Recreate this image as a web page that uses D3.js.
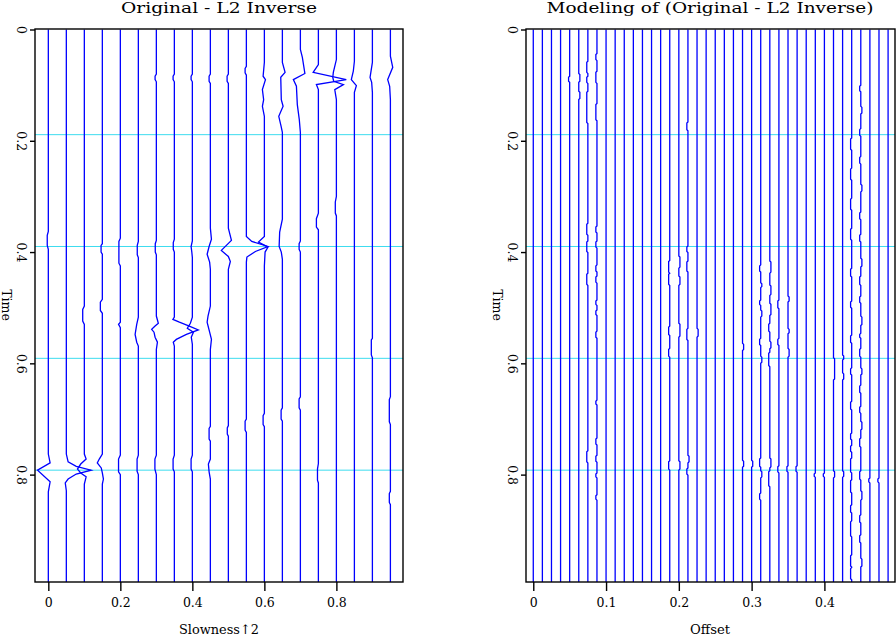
<!DOCTYPE html>
<html lang="en">
<head>
<meta charset="UTF-8">
<title>Original - L2 Inverse</title>
<script src="https://d3js.org/d3.v7.min.js"></script>
<style>
    body { margin: 0; background: #fff; }
    svg { display: block; }
    text { font-family: "DejaVu Serif", "Liberation Serif", serif; fill: #000; }
</style>
</head>
<body>
<div class="container"></div>
<script>
// trace positions (x axis) and tick labels
const slowness = [0, 0.05, 0.1, 0.15, 0.2, 0.25, 0.3, 0.35, 0.4, 0.45,
    0.5, 0.55, 0.6, 0.65, 0.7, 0.75, 0.8, 0.85, 0.9, 0.95];
const offsets = [0, 0.0125, 0.025, 0.0375, 0.05, 0.0625, 0.075, 0.0875, 0.1, 0.1125,
    0.125, 0.1375, 0.15, 0.1625, 0.175, 0.1875, 0.2, 0.2125, 0.225, 0.2375,
    0.25, 0.2625, 0.275, 0.2875, 0.3, 0.3125, 0.325, 0.3375, 0.35, 0.3625,
    0.375, 0.3875, 0.4, 0.4125, 0.425, 0.4375, 0.45, 0.4625, 0.475, 0.4875];
const slownessTicks = [0, 0.2, 0.4, 0.6, 0.8];
const offsetTicks = [0, 0.1, 0.2, 0.3, 0.4];
const timeTicks = [0, 0.2, 0.4, 0.6, 0.8];
const gridTimes = [0.189, 0.39, 0.591, 0.792];
const tMax = 0.993;

// left panel wiggles: [time, amplitude in trace spacings]
const leftTraces = [
    [[0.363,0],[0.370,-0.06],[0.388,-0.06],[0.395,0],[0.763,0],[0.779,0.1],[0.792,-0.6],[0.813,0.1],[0.831,0]],
    [[0.763,0],[0.777,0.1],[0.785,0.55],[0.792,1.38],[0.799,0.55],[0.808,0.1],[0.815,-0.06],[0.829,0]],
    [[0.497,0],[0.503,-0.09],[0.524,-0.09],[0.53,0],[0.763,0],[0.772,0.1],[0.781,-0.2],[0.790,-0.38],[0.797,-0.2],[0.804,0.1],[0.817,0]],
    [[0.385,0],[0.388,-0.07],[0.40,-0.07],[0.404,0],[0.485,0],[0.49,-0.11],[0.505,-0.11],[0.51,0],
     [0.763,0],[0.772,-0.17],[0.779,-0.28],[0.788,-0.06],[0.797,0],[0.808,0.06],[0.817,0]],
    [[0.375,0],[0.381,-0.08],[0.42,-0.08],[0.425,0],[0.526,0],[0.53,-0.1],[0.536,0],[0.765,0],[0.772,-0.1],[0.795,-0.1],[0.80,0]],
    [[0.381,0],[0.388,-0.06],[0.405,-0.06],[0.41,0],[0.517,0],[0.53,-0.09],[0.548,-0.18],[0.562,-0.09],[0.569,0],
     [0.765,0],[0.772,-0.07],[0.794,-0.07],[0.80,0]],
    [[0.08,0],[0.084,-0.07],[0.09,-0.07],[0.094,0],[0.379,0],[0.385,-0.06],[0.40,-0.06],[0.405,0],
     [0.515,0],[0.528,0.11],[0.533,-0.07],[0.539,-0.26],[0.544,-0.13],[0.553,-0.07],[0.562,0.06],[0.575,0],
     [0.765,0],[0.772,-0.08],[0.79,-0.08],[0.80,0]],
    [[0.08,0],[0.084,-0.07],[0.09,-0.07],[0.094,0],[0.377,0],[0.383,-0.06],[0.395,-0.06],[0.40,0],
     [0.517,0],[0.521,-0.08],[0.526,0.28],[0.533,0.83],[0.540,1.33],[0.548,0.67],[0.557,0.11],[0.562,-0.06],[0.569,0],
     [0.765,0],[0.772,-0.07],[0.79,-0.07],[0.795,0]],
    [[0.08,0],[0.084,-0.07],[0.09,-0.07],[0.094,0],[0.38,0],[0.39,-0.07],[0.40,-0.03],[0.41,0],
     [0.517,0],[0.528,-0.11],[0.537,-0.28],[0.544,0.06],[0.553,-0.06],[0.566,0],
     [0.765,0],[0.772,-0.07],[0.79,-0.07],[0.795,0]],
    [[0.08,0],[0.084,-0.07],[0.093,-0.07],[0.097,0],[0.357,0],[0.377,0.06],[0.390,-0.07],[0.404,-0.18],[0.409,-0.13],[0.418,-0.04],[0.431,0],
     [0.497,0],[0.515,-0.13],[0.526,-0.18],[0.544,-0.04],[0.557,0.06],[0.575,0],
     [0.713,0],[0.717,-0.07],[0.736,-0.07],[0.74,0],[0.772,0],[0.781,-0.11],[0.795,-0.07],[0.808,0]],
    [[0.08,0],[0.084,-0.07],[0.093,-0.07],[0.097,0],[0.357,0],[0.379,0.17],[0.397,-0.39],[0.408,0],[0.417,0.11],[0.431,0],
     [0.712,0],[0.716,-0.06],[0.727,-0.06],[0.731,0]],
    [[0.066,0],[0.07,-0.07],[0.078,-0.07],[0.082,0],[0.372,0],[0.381,0.3],[0.390,1.2],[0.399,0.5],[0.409,0.03],[0.418,0],
     [0.70,0],[0.704,-0.07],[0.72,-0.07],[0.724,0]],
    [[0.059,0],[0.084,-0.07],[0.090,0.06],[0.108,-0.11],[0.126,-0.04],[0.138,-0.11],[0.156,0],
     [0.372,0],[0.382,-0.33],[0.391,0.2],[0.400,0.04],[0.425,0],[0.69,0],[0.694,-0.07],[0.71,-0.07],[0.714,0]],
    [[0.059,0],[0.077,0.15],[0.086,-0.09],[0.126,-0.06],[0.138,0.04],[0.156,-0.2],[0.174,-0.07],[0.185,0],
     [0.341,0],[0.364,-0.15],[0.390,-0.18],[0.400,-0.06],[0.413,0],[0.68,0],[0.684,-0.07],[0.70,-0.07],[0.704,0]],
    [[0.036,0],[0.050,0.11],[0.079,0.25],[0.090,-0.39],[0.102,-0.22],[0.135,-0.17],[0.162,-0.06],[0.185,0],
     [0.38,0],[0.385,-0.07],[0.395,-0.07],[0.40,0],[0.66,0],[0.664,-0.07],[0.68,-0.07],[0.684,0]],
    [[0.063,0],[0.077,-0.29],[0.090,1.55],[0.099,-0.11],[0.108,0],[0.33,0],[0.34,-0.11],[0.355,-0.11],[0.36,0],
     [0.78,0],[0.79,-0.05],[0.81,-0.05],[0.815,0]],
    [[0.054,0],[0.077,-0.17],[0.086,-0.2],[0.093,-0.15],[0.099,0.39],[0.108,-0.09],[0.126,0],
     [0.30,0],[0.31,-0.06],[0.33,-0.06],[0.335,0]],
    [[0.057,0],[0.075,-0.06],[0.090,-0.17],[0.101,0.11],[0.113,0]],
    [[0.059,0],[0.086,-0.13],[0.095,-0.04],[0.113,0],[0.555,0],[0.558,-0.06],[0.585,-0.06],[0.59,0]],
    [[0.048,0],[0.068,0.13],[0.090,-0.15],[0.102,-0.04],[0.126,0],[0.66,0],[0.665,-0.06],[0.705,-0.06],[0.71,0],
     [0.83,0],[0.834,-0.06],[0.85,-0.06],[0.854,0]]
];

// right panel wiggles: small jogs [t start, t end, amplitude in trace spacings]
const rightTraces = [
    [], [], [], [],
    [[0.086,0.093,-0.12]],
    [[0.081,0.093,0.12],[0.113,0.124,0.12]],
    [[0.059,0.077,-0.12],[0.086,0.095,-0.12],[0.113,0.167,-0.12],[0.350,0.368,-0.12],[0.382,0.399,-0.12],[0.440,0.458,-0.12],[0.759,0.777,-0.12]],
    [[0.045,0.054,-0.12],[0.077,0.095,-0.12],[0.135,0.162,-0.12],[0.355,0.364,-0.12],[0.382,0.391,-0.12],[0.425,0.434,-0.12],
     [0.445,0.454,-0.12],[0.488,0.494,-0.12],[0.506,0.512,-0.12],[0.544,0.553,-0.12],[0.668,0.673,-0.12],[0.736,0.745,-0.12],
     [0.767,0.776,-0.12],[0.799,0.804,-0.12],[0.838,0.844,-0.12]],
    [], [], [], [], [], [], [],
    [[0.417,0.436,-0.12],[0.440,0.458,-0.12],[0.535,0.548,-0.12],[0.575,0.587,-0.12],[0.777,0.790,-0.12]],
    [[0.409,0.427,0.12],[0.445,0.458,0.12],[0.530,0.551,0.12],[0.777,0.790,0.12]],
    [[0.168,0.180,-0.12],[0.391,0.399,-0.12],[0.418,0.434,-0.12],[0.539,0.557,-0.12],[0.767,0.777,0.12],[0.790,0.799,-0.12]],
    [[0.539,0.551,0.12]],
    [], [], [], [],
    [[0.566,0.575,0.12],[0.776,0.785,0.12]],
    [[0.776,0.785,0.12]],
    [[0.425,0.434,-0.12],[0.457,0.462,0.12],[0.488,0.494,-0.12],[0.506,0.515,0.12],[0.557,0.566,-0.12],[0.589,0.598,0.12],
     [0.772,0.785,-0.12],[0.795,0.804,0.12],[0.835,0.844,-0.12]],
    [[0.418,0.436,0.12],[0.461,0.476,0.12],[0.494,0.512,0.12],[0.530,0.542,-0.12],[0.562,0.572,0.12],[0.582,0.604,-0.12],
     [0.772,0.786,0.12],[0.795,0.820,-0.12]],
    [[0.488,0.500,-0.12],[0.557,0.566,-0.12],[0.786,0.795,-0.12]],
    [[0.481,0.488,0.12],[0.539,0.545,0.12],[0.575,0.587,0.12],[0.786,0.794,-0.12]],
    [[0.786,0.794,-0.12]],
    [],
    [[0.799,0.803,-0.12]],
    [[0.799,0.803,-0.12]],
    [[0.592,0.628,0.12],[0.795,0.804,0.12]],
    [[0.587,0.592,0.12],[0.619,0.628,0.12],[0.795,0.803,0.12]],
    [[0.197,0.215,-0.12],[0.251,0.269,-0.12],[0.305,0.323,-0.12],[0.359,0.377,-0.12],[0.431,0.443,-0.12],[0.490,0.499,-0.12],
     [0.551,0.562,-0.12],[0.610,0.619,-0.12],[0.670,0.682,-0.12],[0.727,0.736,-0.12],[0.749,0.758,-0.12],[0.772,0.795,-0.12],
     [0.811,0.831,-0.12],[0.856,0.867,-0.12],[0.885,0.910,-0.12],[0.946,0.964,-0.12],[0.969,0.987,-0.12]],
    [[0.102,0.110,-0.12],[0.140,0.150,0.12],[0.180,0.190,-0.12],[0.230,0.240,-0.12],[0.280,0.290,0.12],[0.330,0.340,-0.12],
     [0.370,0.380,-0.12],[0.413,0.425,0.12],[0.445,0.458,-0.12],[0.481,0.490,-0.12],[0.517,0.530,0.12],[0.548,0.553,-0.12],
     [0.575,0.587,-0.12],[0.610,0.619,0.12],[0.641,0.652,-0.12],[0.679,0.688,-0.12],[0.706,0.718,0.12],[0.736,0.749,-0.12],
     [0.795,0.808,-0.12],[0.831,0.844,0.12],[0.874,0.885,-0.12],[0.910,0.921,-0.12],[0.952,0.964,0.12]],
    [[0.808,0.813,-0.12]],
    [[0.808,0.813,-0.12]],
    []
];

const width = 896, height = 637;
const svg = d3.select(".container")
    .append("svg")
    .attr("width", width)
    .attr("height", height);

const y = d3.scaleLinear().domain([0, tMax]).range([29.5, 582]);

const xLeft = d3.scaleLinear().domain([-0.037, 0.985]).range([35, 403]);
const xRight = d3.scaleLinear().domain([-0.01, 0.497]).range([526, 895]);

// jogs -> polyline points
function jogPoints(jogs) {
    let pts = [];
    jogs.forEach(j => {
        pts.push([j[0] - 0.002, 0], [j[0], j[2]], [j[1], j[2]], [j[1] + 0.002, 0]);
    });
    return pts;
}

function drawPanel(opt) {
    const x = opt.x;
    const g = svg.append("g");
    const [x0, x1] = x.range();
    const [y0, y1] = y.range();
    const step = x(opt.positions[1]) - x(opt.positions[0]);

    g.append("clipPath").attr("id", opt.id)
        .append("rect").attr("x", x0).attr("y", y0 - 0.5).attr("width", x1 - x0).attr("height", y1 - y0 + 0.5);

    // cyan timing lines
    g.append("g").selectAll("line")
        .data(gridTimes)
        .join("line")
        .attr("x1", x0).attr("x2", x1)
        .attr("y1", d => y(d)).attr("y2", d => y(d))
        .attr("stroke", "#3ddcef")
        .attr("stroke-width", 1);

    // wiggle traces
    const traces = opt.positions.map((p, i) => {
        let pts = opt.wiggles[i].slice().sort((a, b) => a[0] - b[0]);
        return { pos: p, pts: [[0, 0]].concat(pts, [[tMax, 0]]) };
    });
    const line = d3.line();
    g.append("g").attr("clip-path", `url(#${opt.id})`)
        .selectAll("path")
        .data(traces)
        .join("path")
        .attr("d", d => line(d.pts.map(q => [x(d.pos) + q[1] * step, y(q[0])])))
        .attr("fill", "none")
        .attr("stroke", "#0000ff")
        .attr("stroke-width", 1.3);

    // frame
    g.append("rect")
        .attr("x", x0).attr("y", y0 - 0.5)
        .attr("width", x1 - x0).attr("height", y1 - y0 + 0.5)
        .attr("fill", "none").attr("stroke", "#000").attr("stroke-width", 1.4);

    // axes
    const ax = g.append("g")
        .attr("transform", `translate(0,${y1})`)
        .call(d3.axisBottom(x).tickValues(opt.ticks).tickFormat(d3.format("")).tickSize(9).tickPadding(7));
    ax.select(".domain").remove();
    ax.selectAll("line").attr("stroke", "#000").attr("stroke-width", 1.4);
    ax.selectAll("text").attr("font-size", 12.5).attr("font-family", "DejaVu Serif");

    const ay = g.append("g")
        .attr("transform", `translate(${x0},0)`)
        .call(d3.axisLeft(y).tickValues(timeTicks).tickFormat(d3.format("")).tickSize(5));
    ay.select(".domain").remove();
    ay.selectAll("line").attr("stroke", "#000").attr("stroke-width", 1.4);
    ay.selectAll("text")
        .attr("x", 0).attr("dy", "0.35em")
        .attr("text-anchor", "middle")
        .attr("transform", "translate(-14,0) rotate(90)")
        .attr("font-size", 12.5).attr("font-family", "DejaVu Serif");

    // titles and labels
    g.append("text")
        .attr("x", opt.titleX).attr("y", 13)
        .attr("text-anchor", "middle")
        .attr("font-size", 15.5)
        .attr("textLength", opt.titleLen).attr("lengthAdjust", "spacingAndGlyphs")
        .text(opt.title);
    g.append("text")
        .attr("x", opt.labelX).attr("y", 634)
        .attr("text-anchor", "middle")
        .attr("font-size", 13)
        .attr("textLength", opt.labelLen).attr("lengthAdjust", "spacingAndGlyphs")
        .text(opt.xLabel);
    g.append("text")
        .attr("transform", `translate(${x0 - 29},305) rotate(90)`)
        .attr("dy", "0.35em")
        .attr("text-anchor", "middle")
        .attr("font-size", 12.5)
        .text("Time");
}

drawPanel({
    id: "clipL", x: xLeft, positions: slowness, wiggles: leftTraces, ticks: slownessTicks,
    title: "Original - L2 Inverse", titleX: 219, titleLen: 196,
    xLabel: "Slowness\u21912", labelX: 219, labelLen: 80
});
drawPanel({
    id: "clipR", x: xRight, positions: offsets, wiggles: rightTraces.map(jogPoints), ticks: offsetTicks,
    title: "Modeling of (Original - L2 Inverse)", titleX: 710, titleLen: 327,
    xLabel: "Offset", labelX: 710, labelLen: 40
});
</script>
</body>
</html>
